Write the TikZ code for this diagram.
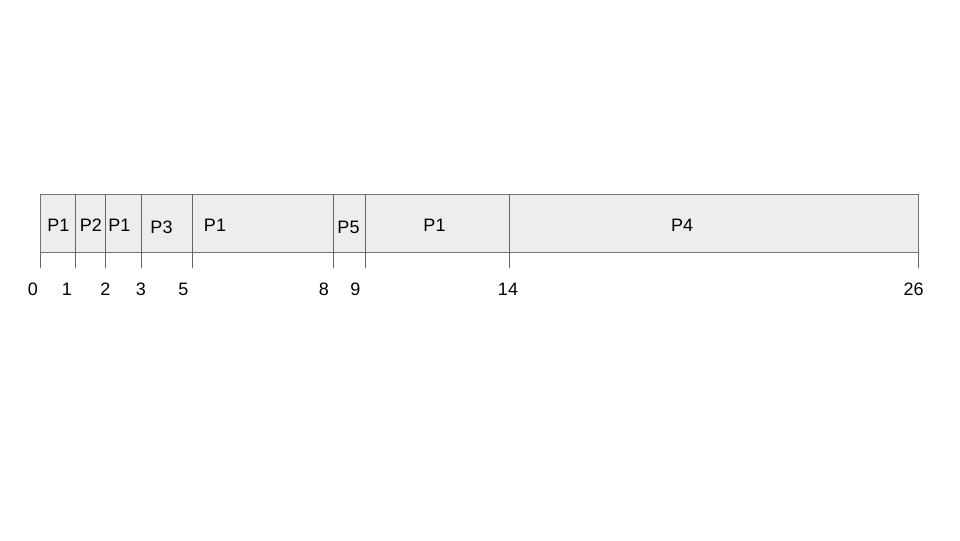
\documentclass[tikz,border=0pt]{standalone}
\usepackage{fontspec}
\setmainfont{Liberation Sans}
\begin{document}
\begin{tikzpicture}[x=0.75pt,y=-0.75pt,
  seg/.style={draw=black!55, line width=0.6pt, fill=black!7},
  divline/.style={draw=black!60, line width=0.5pt},
  tick/.style={draw=black!60, line width=0.5pt},
  plabel/.style={font=\fontsize{13.5pt}{16pt}\selectfont, inner sep=0pt},
  tlabel/.style={font=\fontsize{13.5pt}{16pt}\selectfont, inner sep=0pt}]
\useasboundingbox (0,0) rectangle (960,540);
\fill[white] (0,0) rectangle (960,540);
% bar
\draw[seg] (40.7,194.3) rectangle (918.3,252.7);
\foreach \x in {75.3,105.7,141.3,192.3,333.3,365.3,509.3}
  \draw[divline] (\x,194.3) -- (\x,252.7);
\foreach \x in {40.7,75.3,105.7,141.3,192.3,333.3,365.3,509.3,918.3}
  \draw[tick] (\x,252.7) -- (\x,268);
% process labels
\node[plabel] (a) at (58.5,225) {P1};
\node[plabel] (b) at (91,225) {P2};
\node[plabel] (c) at (119.5,225) {P1};
\node[plabel] (d) at (161.5,227) {P3};
\node[plabel] (e) at (215,225) {P1};
\node[plabel] (f) at (348.5,227) {P5};
\node[plabel] (g) at (434.5,225) {P1};
\node[plabel] (h) at (682,225) {P4};
% time labels
\node[tlabel] (t0) at (33,289) {0};
\node[tlabel] (t1) at (67,289) {1};
\node[tlabel] (t2) at (105.5,289) {2};
\node[tlabel] (t3) at (141,289) {3};
\node[tlabel] (t5) at (183.5,289) {5};
\node[tlabel] (t8) at (324,289) {8};
\node[tlabel] (t9) at (355.5,289) {9};
\node[tlabel] (t14) at (508,289) {14};
\node[tlabel] (t26) at (913.5,289) {26};
\end{tikzpicture}
\end{document}
